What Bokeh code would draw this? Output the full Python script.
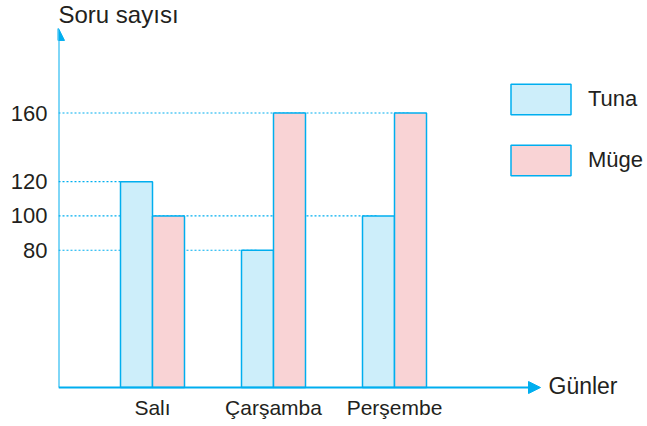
from bokeh.plotting import figure
from bokeh.models import (Arrow, NormalHead, Label, FixedTicker, Legend,
                          LegendItem, ColumnDataSource, Range1d)
from bokeh.embed import file_html
from bokeh.resources import INLINE

# ---- data ----
days = ["Salı", "Çarşamba", "Perşembe"]
tuna = [120, 80, 100]
muge = [100, 160, 160]
y_ticks = [80, 100, 120, 160]
series_names = ["Tuna", "Müge"]

# ---- layout constants (pixels) ----
W, H = 647, 421
LEFT = 58            # y axis position
FRAME_BOTTOM = 396   # bottom of plotting frame
ZERO_Y = 388         # pixel row of value 0
GROUP_PX = 121.0     # distance between day groups
FIRST_GROUP = 152    # pixel column of first group centre
PPU = 1.72           # pixels per unit on y

x_start = 1 - (FIRST_GROUP - LEFT) / GROUP_PX
x_end = x_start + (W - LEFT) / GROUP_PX
y_start = -(FRAME_BOTTOM - ZERO_Y) / PPU
y_end = y_start + FRAME_BOTTOM / PPU
bw = 32 / GROUP_PX

def px_x(px):
    return x_start + (px - LEFT) / GROUP_PX

def px_y(py):
    return (ZERO_Y - py) / PPU

CYAN = "#00aeef"
TXT = "#231f20"
FONT = "Liberation Sans"

p = figure(width=W, height=H, output_backend="svg", toolbar_location=None,
           x_range=Range1d(x_start, x_end), y_range=Range1d(y_start, y_end),
           min_border_left=LEFT, min_border_right=0, min_border_top=0,
           min_border_bottom=0)
p.outline_line_color = None
p.xgrid.visible = False
p.ygrid.visible = False
p.background_fill_color = "white"
p.border_fill_color = "white"

xs = list(range(1, len(days) + 1))
x_tuna = [x - bw / 2 for x in xs]
x_muge = [x + bw / 2 for x in xs]

# dotted reference lines (drawn behind bars), ending at last bar of that height
g_x1 = []
for t in y_ticks:
    cands = [xt for xt, v in zip(x_tuna, tuna) if v == t] + \
            [xm for xm, v in zip(x_muge, muge) if v == t]
    g_x1.append(max(cands))
gsrc = ColumnDataSource(dict(x0=[x_start] * len(y_ticks), x1=g_x1, y=y_ticks))
p.segment(x0="x0", y0="y", x1="x1", y1="y", source=gsrc, line_color=CYAN,
          line_width=1.2, line_dash="2 2")

r_t = p.vbar(x=x_tuna, top=tuna, bottom=0, width=bw, fill_color="#cdeefa",
             line_color=CYAN, line_width=1.5)
r_m = p.vbar(x=x_muge, top=muge, bottom=0, width=bw, fill_color="#f9d3d5",
             line_color=CYAN, line_width=1.5)

# axes (labels only; axis lines drawn as arrows)
for ax in (p.yaxis, p.xaxis):
    ax.axis_line_color = None
    ax.major_tick_line_color = None
    ax.minor_tick_line_color = None
    ax.major_tick_out = 0
    ax.major_tick_in = 0
    ax.minor_tick_out = 0
    ax.major_label_text_font = FONT
    ax.major_label_text_color = TXT

p.yaxis.ticker = FixedTicker(ticks=y_ticks)
p.yaxis.major_label_standoff = 11
p.yaxis.major_label_text_font_size = "22px"
p.xaxis.ticker = FixedTicker(ticks=xs)
p.xaxis.major_label_overrides = {x: d for x, d in zip(xs, days)}
p.xaxis.major_label_standoff = 0
p.xaxis.major_label_text_font_size = "21px"

# arrow axes
p.add_layout(Arrow(end=NormalHead(size=12, fill_color=CYAN, line_color=CYAN),
                   x_start=x_start, y_start=0, x_end=x_start, y_end=px_y(28),
                   line_color=CYAN, line_width=2))
p.add_layout(Arrow(end=NormalHead(size=12, fill_color=CYAN, line_color=CYAN),
                   x_start=x_start, y_start=0, x_end=px_x(540), y_end=0,
                   line_color=CYAN, line_width=2))

p.add_layout(Label(x=x_start, y=px_y(14), text="Soru sayısı", text_font=FONT,
                   text_font_size="24px", text_color=TXT,
                   text_baseline="alphabetic"))
p.add_layout(Label(x=px_x(548), y=px_y(386.5), text="Günler",
                   text_font=FONT, text_font_size="23px", text_color=TXT,
                   text_baseline="middle"))

legend = Legend(items=[LegendItem(label=series_names[0], renderers=[r_t]),
                       LegendItem(label=series_names[1], renderers=[r_m])],
                location=(445, FRAME_BOTTOM - 180), glyph_width=75,
                glyph_height=38, spacing=23, label_standoff=10, padding=0,
                margin=0, border_line_color=None, background_fill_alpha=0,
                label_text_font=FONT, label_text_font_size="22px",
                label_text_color=TXT)
p.add_layout(legend)

open("out.html", "w").write(file_html(p, INLINE))
